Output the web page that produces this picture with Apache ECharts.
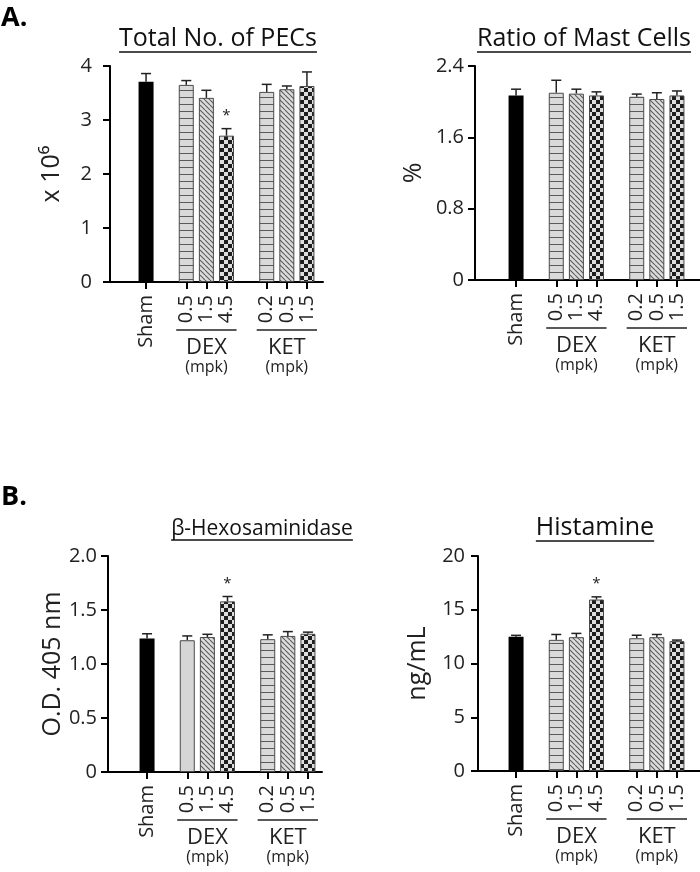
<!DOCTYPE html>
<html>
<head>
<meta charset="utf-8">
<script src="https://cdn.jsdelivr.net/npm/echarts@6/dist/echarts.min.js"></script>
<style>
  html, body { margin: 0; padding: 0; background: #fff; }
  #chart { width: 700px; height: 872px; }
</style>
</head>
<body>
<div id="chart"></div>
<script>
// groups on the x axis: Sham, DEX (3 doses), KET (3 doses)
const doses = ['Sham', '0.5', '1.5', '4.5', '0.2', '0.5', '1.5'];
const groupNames = ['DEX', 'KET'];
const groupMembers = [[1, 2, 3], [4, 5, 6]];

// A. total number of PECs (x 10^6)
const pecMean = [3.71, 3.65, 3.41, 2.71, 3.52, 3.57, 3.63];
const pecErr = [0.15, 0.08, 0.14, 0.13, 0.14, 0.06, 0.26];
const pecSig = ['', '', '', '*', '', '', ''];

// A. ratio of mast cells (%)
const mastMean = [2.07, 2.10, 2.09, 2.07, 2.055, 2.03, 2.07];
const mastErr = [0.07, 0.14, 0.05, 0.04, 0.03, 0.07, 0.05];
const mastSig = ['', '', '', '', '', '', ''];

// B. beta-hexosaminidase (O.D. 405 nm)
const hexMean = [1.235, 1.22, 1.25, 1.58, 1.23, 1.26, 1.28];
const hexErr = [0.045, 0.04, 0.025, 0.045, 0.04, 0.04, 0.015];
const hexSig = ['', '', '', '*', '', '', ''];

// B. histamine (ng/mL)
const histMean = [12.5, 12.2, 12.45, 15.95, 12.35, 12.45, 12.08];
const histErr = [0.12, 0.5, 0.35, 0.25, 0.28, 0.25, 0.1];
const histSig = ['', '', '', '*', '', '', ''];

const FONT = '"Open Sans", "Noto Sans", sans-serif';

// category slots with an empty slot before each drug group
const xCats = [];
doses.forEach((d, i) => {
  if (i === 1 || i === 4) xCats.push('');
  xCats.push(d);
});
const slot = doses.map((d, i) => i + (i >= 1 ? 1 : 0) + (i >= 4 ? 1 : 0));

function tile(w, h, draw) {
  const c = document.createElement('canvas');
  c.width = w; c.height = h;
  const ctx = c.getContext('2d');
  draw(ctx, w, h);
  return { image: c, repeat: 'repeat' };
}

const fills = {
  solid: '#000',
  gray: '#d6d6d6',
  hline: tile(8, 7, (ctx, w, h) => {
    ctx.fillStyle = '#d9d9d9'; ctx.fillRect(0, 0, w, h);
    ctx.fillStyle = '#5a5a5a'; ctx.fillRect(0, h - 1, w, 1);
  }),
  diag: tile(5, 5, (ctx, w, h) => {
    ctx.fillStyle = '#dcdcdc'; ctx.fillRect(0, 0, w, h);
    ctx.strokeStyle = '#5a5a5a'; ctx.lineWidth = 1.1;
    [-w, 0, w].forEach(x0 => {
      ctx.beginPath(); ctx.moveTo(x0, 0); ctx.lineTo(x0 + w, h); ctx.stroke();
    });
  }),
  check: tile(8, 8, (ctx, w, h) => {
    ctx.fillStyle = '#dedede'; ctx.fillRect(0, 0, w, h);
    ctx.fillStyle = '#1e1e1e';
    ctx.fillRect(0, 0, 4, 4); ctx.fillRect(4, 4, 4, 4);
  })
};
const basePattern = ['solid', 'hline', 'diag', 'check', 'hline', 'diag', 'check'];
const hexPattern = ['solid', 'gray', 'diag', 'check', 'hline', 'diag', 'check'];

const panels = [
  { title: 'Total No. of PECs', yName: 'x 10\u2076', mean: pecMean, err: pecErr, sig: pecSig,
    pattern: basePattern, max: 4, interval: 1, fmt: v => String(v),
    axisX: 110, axisR: 323, top: 66, zero: 282, barL: 136, labelMargin: 18, nameGap: 46,
    titleX: 218, titleY: 39, titleSize: 25 },
  { title: 'Ratio of Mast Cells', yName: '%', mean: mastMean, err: mastErr, sig: mastSig,
    pattern: basePattern, max: 2.4, interval: 0.8, fmt: v => v === 0 ? '0' : v.toFixed(1),
    axisX: 475, axisR: 700, top: 66, zero: 280, barL: 506, labelMargin: 11, nameGap: 49,
    titleX: 584, titleY: 39, titleSize: 25 },
  { title: '\u03b2-Hexosaminidase', yName: 'O.D. 405 nm', mean: hexMean, err: hexErr, sig: hexSig,
    pattern: hexPattern, max: 2, interval: 0.5, fmt: v => v === 0 ? '0' : v.toFixed(1),
    axisX: 108, axisR: 322, top: 556, zero: 772, barL: 137, labelMargin: 11, nameGap: 39,
    titleX: 262, titleY: 529, titleSize: 21 },
  { title: 'Histamine', yName: 'ng/mL', mean: histMean, err: histErr, sig: histSig,
    pattern: basePattern, max: 20, interval: 5, fmt: v => String(v),
    axisX: 478, axisR: 700, top: 556, zero: 771, barL: 506, labelMargin: 13, nameGap: 48,
    titleX: 595, titleY: 528, titleSize: 25 }
];
const BAR_SPAN = 181;

const chart = echarts.init(document.getElementById('chart'));

const grid = [], xAxis = [], yAxis = [], series = [];
const axisLine = { show: true, lineStyle: { color: '#000', width: 2 } };

panels.forEach((p, k) => {
  const bg = 2 * k, bars = 2 * k + 1;
  grid.push({ left: p.axisX, width: p.axisR - p.axisX, top: p.top, height: p.zero - p.top });
  grid.push({ left: p.barL, width: BAR_SPAN, top: p.top, height: p.zero - p.top });

  // background axes: visible y axis and the full-length x axis line
  xAxis.push({ type: 'value', gridIndex: bg, min: 0, max: 1, axisLine,
    axisTick: { show: false }, axisLabel: { show: false }, splitLine: { show: false } });
  yAxis.push({ type: 'value', gridIndex: bg, min: 0, max: p.max, interval: p.interval,
    name: p.yName, nameLocation: 'middle', nameGap: p.nameGap,
    nameTextStyle: { fontFamily: FONT, fontSize: 25, color: '#222' },
    axisLine, axisTick: { show: true, length: 7, lineStyle: { color: '#000', width: 2 } },
    axisLabel: { fontFamily: FONT, fontSize: 20, color: '#222', margin: p.labelMargin, formatter: p.fmt },
    splitLine: { show: false } });

  // bar axes: category ticks and rotated dose labels
  xAxis.push({ type: 'category', gridIndex: bars, data: xCats,
    axisLine: { show: false },
    axisTick: { show: true, alignWithLabel: true, length: 7, interval: (i, v) => v !== '',
      lineStyle: { color: '#000', width: 2 } },
    axisLabel: { interval: 0, rotate: 90, fontFamily: FONT, fontSize: 20, color: '#222', margin: 13 } });
  yAxis.push({ type: 'value', gridIndex: bars, min: 0, max: p.max, show: false });

  series.push({
    type: 'bar', xAxisIndex: bars, yAxisIndex: bars, barWidth: 15,
    data: xCats.map((c, s) => {
      const i = slot.indexOf(s);
      if (i < 0) return '-';
      return { value: p.mean[i], itemStyle: { color: fills[p.pattern[i]], borderColor: '#4a4a4a', borderWidth: i === 0 ? 0 : 1 } };
    })
  });

  series.push({
    type: 'custom', xAxisIndex: bars, yAxisIndex: bars, silent: true,
    data: doses.map((d, i) => [slot[i], p.mean[i], p.mean[i] + p.err[i]]),
    renderItem: (params, api) => {
      const x = api.value(0);
      const base = api.coord([x, api.value(1)]);
      const top = api.coord([x, api.value(2)]);
      const stroke = { stroke: '#222', lineWidth: 1.5 };
      const children = [
        { type: 'line', shape: { x1: top[0], y1: base[1], x2: top[0], y2: top[1] }, style: stroke },
        { type: 'line', shape: { x1: top[0] - 5, y1: top[1], x2: top[0] + 5, y2: top[1] }, style: stroke }
      ];
      const mark = p.sig[params.dataIndex];
      if (mark) {
        children.push({ type: 'text', x: top[0], y: top[1] - 13,
          style: { text: mark, fontFamily: FONT, fontSize: 15, fill: '#222', align: 'center', verticalAlign: 'middle' } });
      }
      return { type: 'group', children };
    }
  });
});

chart.setOption({ animation: false, grid, xAxis, yAxis, series });

// titles with underlines, group brackets and panel letters
const measure = document.createElement('canvas').getContext('2d');
const graphic = [];

panels.forEach((p, k) => {
  measure.font = p.titleSize + 'px ' + FONT;
  const w = measure.measureText(p.title).width;
  const lineY = p.titleY + Math.round(p.titleSize * 0.52);
  graphic.push({ type: 'text', x: p.titleX, y: p.titleY,
    style: { text: p.title, fontFamily: FONT, fontSize: p.titleSize, fill: '#111', align: 'center', verticalAlign: 'middle' } });
  graphic.push({ type: 'line', shape: { x1: p.titleX - w / 2, y1: lineY, x2: p.titleX + w / 2, y2: lineY },
    style: { stroke: '#111', lineWidth: 1.5 } });

  const bars = 2 * k + 1;
  const px = s => chart.convertToPixel({ xAxisIndex: bars, yAxisIndex: bars }, [s, 0]);
  const band = px(1)[0] - px(0)[0];
  groupMembers.forEach((members, g) => {
    const x1 = px(slot[members[0]])[0] - band / 2;
    const x2 = px(slot[members[members.length - 1]])[0] + band / 2;
    const y0 = px(0)[1];
    const cx = (x1 + x2) / 2;
    graphic.push({ type: 'line', shape: { x1, y1: y0 + 48, x2, y2: y0 + 48 }, style: { stroke: '#222', lineWidth: 1.5 } });
    graphic.push({ type: 'text', x: cx, y: y0 + 66,
      style: { text: groupNames[g], fontFamily: FONT, fontSize: 22, fill: '#222', align: 'center', verticalAlign: 'middle' } });
    graphic.push({ type: 'text', x: cx, y: y0 + 85,
      style: { text: '(mpk)', fontFamily: FONT, fontSize: 16, fill: '#222', align: 'center', verticalAlign: 'middle' } });
  });
});

graphic.push({ type: 'text', x: 1, y: 18,
  style: { text: 'A.', fontFamily: FONT, fontSize: 27, fontWeight: 'bold', fill: '#000', verticalAlign: 'middle' } });
graphic.push({ type: 'text', x: 1, y: 497,
  style: { text: 'B.', fontFamily: FONT, fontSize: 27, fontWeight: 'bold', fill: '#000', verticalAlign: 'middle' } });

chart.setOption({ graphic });
</script>
</body>
</html>
